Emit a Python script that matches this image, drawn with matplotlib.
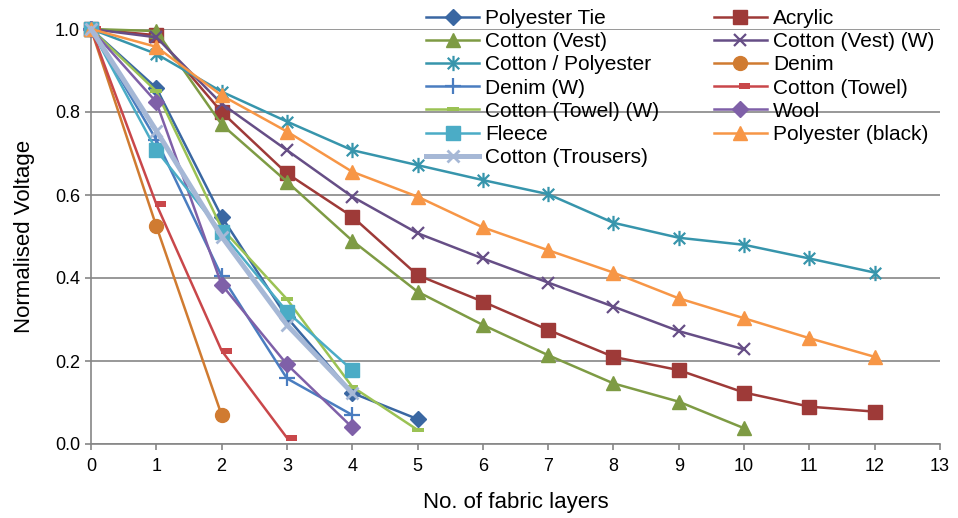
import matplotlib
matplotlib.use("Agg")
import matplotlib.pyplot as plt
from matplotlib.path import Path
import numpy as np

plt.rcParams['font.family'] = ['Liberation Sans', 'DejaVu Sans']

# ---- data ----
polyester_tie = [1.0, 0.858, 0.548, 0.305, 0.123, 0.06]
acrylic = [1.0, 0.985, 0.80, 0.652, 0.548, 0.407, 0.343, 0.275, 0.21, 0.178, 0.124, 0.09, 0.078]
cotton_vest = [1.0, 0.995, 0.77, 0.632, 0.49, 0.367, 0.287, 0.214, 0.146, 0.102, 0.038]
cotton_vest_w = [1.0, 0.98, 0.82, 0.708, 0.596, 0.508, 0.447, 0.389, 0.331, 0.272, 0.228]
cotton_poly = [1.0, 0.94, 0.849, 0.777, 0.708, 0.672, 0.636, 0.602, 0.533, 0.497, 0.48, 0.447, 0.413]
denim = [1.0, 0.525, 0.07]
denim_w = [1.0, 0.733, 0.405, 0.158, 0.07]
cotton_towel = [1.0, 0.578, 0.225, 0.015]
cotton_towel_w = [1.0, 0.85, 0.52, 0.349, 0.138, 0.034]
wool = [1.0, 0.824, 0.384, 0.192, 0.04]
fleece = [1.0, 0.708, 0.51, 0.319, 0.178]
polyester_black = [1.0, 0.957, 0.84, 0.753, 0.656, 0.596, 0.522, 0.467, 0.413, 0.351, 0.303, 0.255, 0.21]
cotton_trousers = [1.0, 0.755, 0.50, 0.287, 0.123]

labels = ["Polyester Tie", "Acrylic", "Cotton (Vest)", "Cotton (Vest) (W)",
          "Cotton / Polyester", "Denim", "Denim (W)", "Cotton (Towel)",
          "Cotton (Towel) (W)", "Wool", "Fleece", "Polyester (black)",
          "Cotton (Trousers)"]
series = [polyester_tie, acrylic, cotton_vest, cotton_vest_w, cotton_poly, denim,
          denim_w, cotton_towel, cotton_towel_w, wool, fleece, polyester_black,
          cotton_trousers]
x_ticks = list(range(0, 14))
y_ticks = [0.0, 0.2, 0.4, 0.6, 0.8, 1.0]

# ---- marker shapes ----
asterisk = Path([(0, -1), (0, 1), (-0.75, -0.75), (0.75, 0.75), (-0.75, 0.75), (0.75, -0.75)],
                [Path.MOVETO, Path.LINETO] * 3)
dash_right = Path([(-0.1, -0.3), (1.0, -0.3), (1.0, 0.3), (-0.1, 0.3), (-0.1, -0.3)],
                  [Path.MOVETO, Path.LINETO, Path.LINETO, Path.LINETO, Path.CLOSEPOLY])
dash_mid = Path([(-1.0, -0.3), (1.0, -0.3), (1.0, 0.3), (-1.0, 0.3), (-1.0, -0.3)],
                [Path.MOVETO, Path.LINETO, Path.LINETO, Path.LINETO, Path.CLOSEPOLY])

styles = [
    dict(color='#3A67A2', marker='D', ms=8),
    dict(color='#9E3A38', marker='s', ms=10),
    dict(color='#7E9B44', marker='^', ms=10),
    dict(color='#664E86', marker='x', ms=9, mew=1.6),
    dict(color='#3795AC', marker=asterisk, ms=11, mew=1.6, mfc='none'),
    dict(color='#D07B31', marker='o', ms=10),
    dict(color='#4A7DC0', marker='+', ms=11, mew=1.6),
    dict(color='#C9474A', marker=dash_right, ms=14, mew=0),
    dict(color='#9BC254', marker=dash_mid, ms=9, mew=0),
    dict(color='#7F60A8', marker='D', ms=8),
    dict(color='#4BACC6', marker='s', ms=10),
    dict(color='#F79646', marker='^', ms=10),
    dict(color='#A6B8D6', marker='x', ms=9, mew=2.0),
]

fig = plt.figure(figsize=(9.58, 5.18), dpi=100)
ax = fig.add_axes([91 / 958, 1 - 444 / 518, (940 - 91) / 958, (444 - 29) / 518])

handles = []
for i, (lab, ys, st) in enumerate(zip(labels, series, styles)):
    xs = np.arange(len(ys))
    lw = 3.6 if lab == "Cotton (Trousers)" else 1.8
    h, = ax.plot(xs, ys, label=lab, lw=lw, clip_on=False, zorder=3 + i, **st)
    handles.append(h)

ax.set_xlim(0, 13)
ax.set_ylim(0, 1.0)
ax.set_xticks(x_ticks)
ax.set_yticks(y_ticks)
ax.set_yticklabels([f"{v:.1f}" for v in y_ticks])
ax.yaxis.grid(True, color='#868686', lw=1.2, zorder=0)
ax.set_axisbelow(True)
for s in ['top', 'right']:
    ax.spines[s].set_visible(False)
for s in ['left', 'bottom']:
    ax.spines[s].set_color('#868686')
    ax.spines[s].set_linewidth(1.2)
ax.tick_params(axis='both', colors='#868686', labelcolor='black', labelsize=13,
               direction='out', length=4, width=1.2)
ax.tick_params(axis='y', pad=4)
ax.tick_params(axis='x', pad=6)

ax.set_xlabel("No. of fabric layers", fontsize=16, labelpad=12)
ax.set_ylabel("Normalised Voltage", fontsize=16, labelpad=14)

# row-major order for a 2-column legend
order = list(range(0, 13, 2)) + list(range(1, 13, 2))
leg = ax.legend([handles[k] for k in order], [labels[k] for k in order],
                loc='upper left', bbox_to_anchor=(426 / 958, 1 - 9 / 518),
                bbox_transform=fig.transFigure, ncol=2, frameon=False,
                fontsize=15, borderpad=0, borderaxespad=0, labelspacing=0.2,
                handlelength=2.55, handletextpad=0.3, columnspacing=2.6,
                numpoints=1)

fig.savefig("out.png", dpi=100)
